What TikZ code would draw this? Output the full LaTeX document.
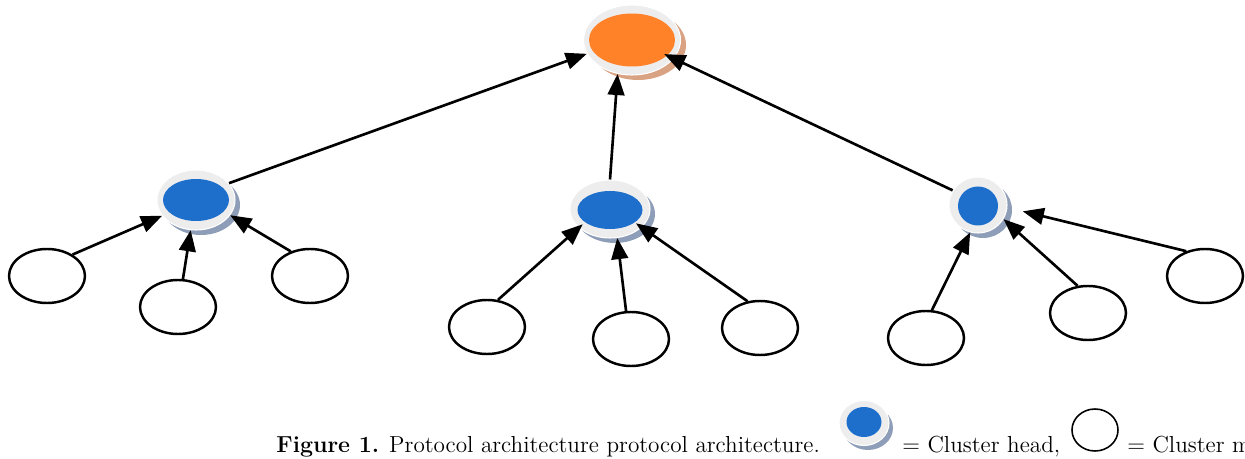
\documentclass[tikz,border=0pt]{standalone}
\usetikzlibrary{arrows.meta,shapes.geometric}
\newcommand\pxu{0.02cm}
\definecolor{headblue}{HTML}{1E6FCC}
\definecolor{rootorange}{HTML}{FF8128}
\definecolor{ringgrey}{HTML}{EDEDED}
\definecolor{blueshade}{HTML}{8E9EB8}
\definecolor{orangeshade}{HTML}{D9A283}
\tikzset{
  ring/.style={ellipse, inner sep=0pt, fill=ringgrey, draw=white, line width=0.6pt},
  core/.style={ellipse, inner sep=0pt},
  member/.style={ellipse, draw=black, fill=white, line width=1.4pt, inner sep=0pt,
                 minimum width=76*\pxu, minimum height=54*\pxu},
  link/.style={line width=1.5pt, -{Triangle[length=12pt,width=9.5pt]}},
  captext/.style={anchor=base west, inner sep=0pt, font=\fontsize{13.2}{15}\selectfont},
}
\begin{document}
\begin{tikzpicture}[x=\pxu, y=-\pxu]
\useasboundingbox (0,0) rectangle (1245,459);

% sink (root) node
\fill[orangeshade] (638,45) ellipse [x radius=48, y radius=35];
\node[ring, minimum width=97*\pxu, minimum height=70*\pxu] (root) at (632,40) {};
\node[core, fill=rootorange, minimum width=86*\pxu, minimum height=53*\pxu] (rootc) at (632,40) {};

% cluster heads
\fill[blueshade] (201,205) ellipse [x radius=39, y radius=30];
\node[ring, minimum width=78*\pxu, minimum height=60*\pxu] (h1) at (196,200) {};
\node[core, fill=headblue, minimum width=66*\pxu, minimum height=42*\pxu] (h1c) at (196,200) {};

\fill[blueshade] (615,214) ellipse [x radius=40, y radius=29];
\node[ring, minimum width=80*\pxu, minimum height=58*\pxu] (h2) at (610,209) {};
\node[core, fill=headblue, minimum width=65*\pxu, minimum height=38*\pxu] (h2c) at (610,210) {};

\fill[blueshade] (983,210) ellipse [x radius=29, y radius=28];
\node[ring, minimum width=58*\pxu, minimum height=56*\pxu] (h3) at (978,205) {};
\node[core, fill=headblue, minimum width=40*\pxu, minimum height=39*\pxu] (h3c) at (978,206) {};

% cluster members
\node[member] (m1) at (47,276) {};
\node[member] (m2) at (178,307) {};
\node[member] (m3) at (310,276) {};
\node[member] (m4) at (487,327) {};
\node[member] (m5) at (631,339) {};
\node[member] (m6) at (760,328) {};
\node[member] (m7) at (926,338) {};
\node[member] (m8) at (1088,313) {};
\node[member] (m9) at (1205,276) {};

% heads to sink
\draw[link] (h1.27) -- (root.197);
\draw[link] (h2.90) -- (root.247);
\draw[link, shorten >=-6pt] (h3.150) -- (root.-24);

% members to heads
\draw[link] (m1.40) -- (h1.205);
\draw[link] (m2.80) -- (h1.260);
\draw[link] (m3.128) -- (h1.-24);
\draw[link, shorten >=-3pt] (m4.68) -- (h2.211);
\draw[link] (m5.100) -- (h2.-76);
\draw[link, shorten >=-4pt] (m6.115) -- (h2.-30);
\draw[link] (m7.78) -- (h3.-106);
\draw[link] (m8.111) -- (h3.-29);
\draw[link, shorten >=9pt] (m9.127) -- (h3.-5);

% caption with legend symbols
\node[captext] (captxt) at (276,453) {\textbf{Figure 1.} Protocol architecture protocol architecture.};
\fill[blueshade] (868,428) ellipse [x radius=25, y radius=22];
\node[ring, minimum width=50*\pxu, minimum height=45*\pxu] (keyhead) at (864,423) {};
\node[core, fill=headblue, minimum width=35*\pxu, minimum height=30*\pxu] (keyheadc) at (864,422) {};
\node[captext] (keyheadtxt) at (902,453) {= Cluster head,};
\node[ellipse, draw=black, line width=0.9pt, inner sep=0pt, minimum width=46*\pxu, minimum height=42*\pxu] (keymember) at (1095,430) {};
\node[captext] (keymembertxt) at (1127,453) {= Cluster member};
\end{tikzpicture}
\end{document}
